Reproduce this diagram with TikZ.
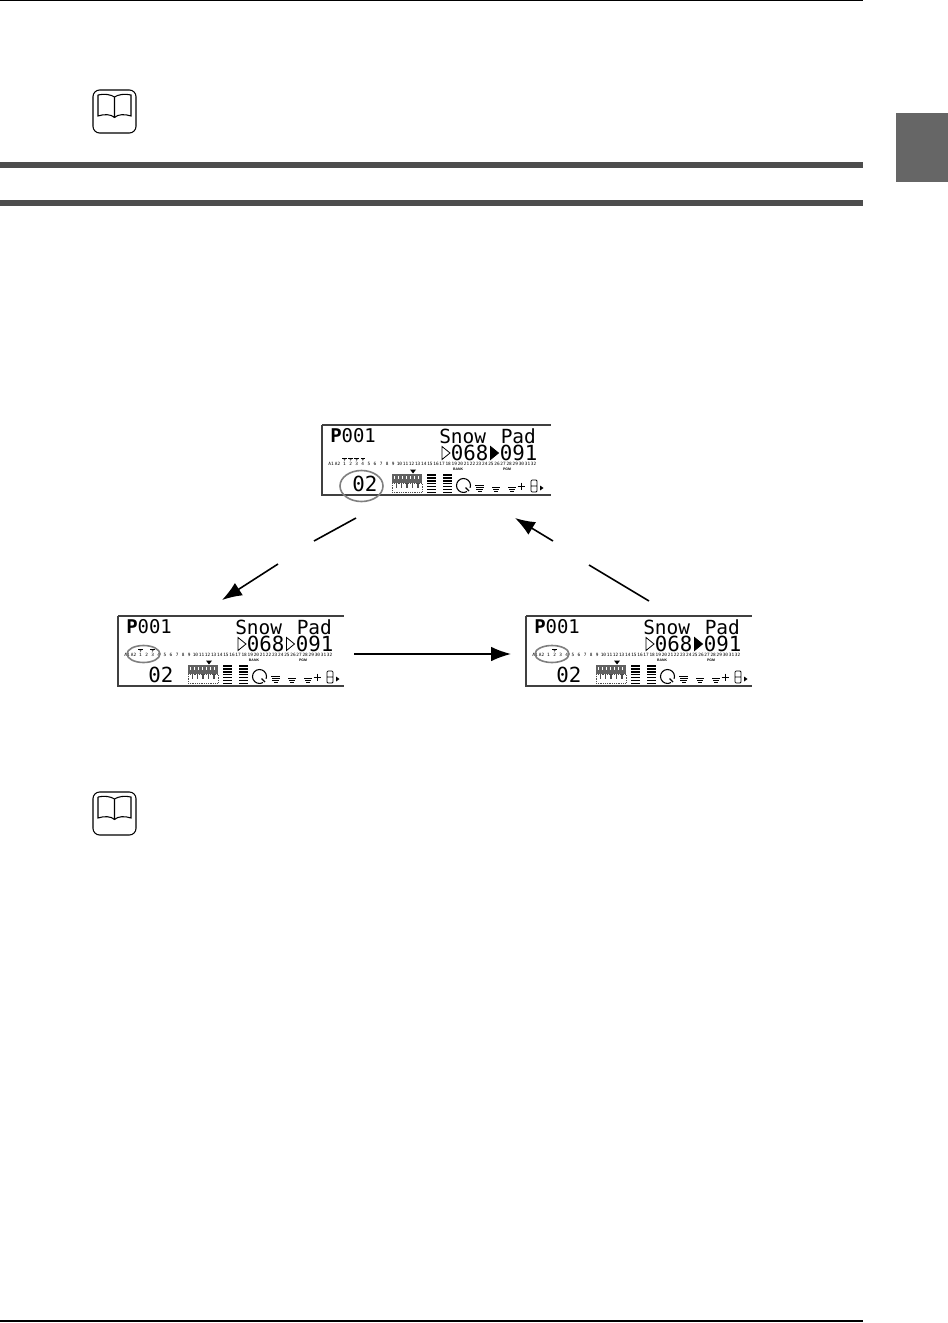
\documentclass[tikz,border=0pt]{standalone}
\usepackage{fontspec}
\setmainfont{Liberation Sans}
\newfontfamily\lcdfont{DejaVu Sans Mono}
\newfontfamily\lcdbold{DejaVu Sans Mono Bold}
\usetikzlibrary{arrows.meta}
\definecolor{rulegray}{HTML}{4D4D4D}
\definecolor{tabgray}{HTML}{666666}
\tikzset{
  x=0.75pt,y=-0.75pt,
  rule/.style={draw=rulegray,line width=4.5pt},
  thinrule/.style={draw=black,line width=1.2pt},
  lcdframe/.style={draw=black!75,line width=0.8pt},
  flow/.style={draw=black,line width=1.2pt},
  flowtip/.style={flow,-{Latex[length=15pt,width=11pt]}},
  ring/.style={draw=black!50,line width=1.2pt},
  lcdnum/.style={inner sep=0pt,anchor=center,font=\lcdfont\fontsize{3.3}{3.4}\selectfont},
  lcdtiny/.style={inner sep=0pt,font=\bfseries\fontsize{2.6}{3}\selectfont},
  lcdbig/.style={inner sep=0pt,anchor=base west,font=\lcdfont\fontsize{14.6}{16}\selectfont},
  lcdlarge/.style={inner sep=0pt,anchor=base west,font=\lcdfont\fontsize{15.6}{16}\selectfont},
  lcdhead/.style={inner sep=0pt,anchor=base west,font=\lcdfont\fontsize{14.2}{14}\selectfont},
}
% #1 origin x, #2 origin y, #3 width, #4 prefix, #5 fill 1st arrow, #6 fill 2nd arrow, #7 marked parts
\newcommand{\lcdpanel}[7]{%
\begin{scope}[shift={(#1,#2)}]
  \draw[lcdframe] (0,0) -- (#3,0);
  \draw[lcdframe] (0,0) -- (0,70) -- (#3,70);
  \node[lcdhead] (#4p) at (8,17) {{\lcdbold P}001};
  \node[lcdbig] (#4name) at (117,18) {Snow};
  \node[lcdbig] (#4pad) at (178.5,18) {Pad};
  \filldraw[draw=black,line width=.6pt,fill=#5] (120,21.5) -- (120,34.5) -- (128,28) -- cycle;
  \node[lcdlarge] (#4a) at (128.5,35) {068};
  \filldraw[draw=black,line width=.6pt,fill=#6] (168.5,21.5) -- (168.5,34.5) -- (176.5,28) -- cycle;
  \node[lcdlarge] (#4b) at (177.5,35) {091};
  \node[lcdnum] (#4aa) at (9,38.5) {A1};
  \node[lcdnum] (#4ab) at (15.5,38.5) {A2};
  \foreach \n [count=\i from 0] in {1,2,...,32} {
    \pgfmathsetmacro{\xx}{22.5+\i*6.1}
    \node[lcdnum] (#4n\n) at (\xx,38.5) {\n};
  }
  \foreach \m in {#7} {
    \pgfmathsetmacro{\xx}{22.5+(\m-1)*6.1}
    \fill[black] (\xx-2.3,32.6) rectangle (\xx+2.3,34.4);
    \fill[black] (\xx-1,34.4) -- (\xx+1,34.4) -- (\xx,35.6) -- cycle;
  }
  \node[lcdtiny] (#4bank) at (136,44) {BANK};
  \node[lcdtiny] (#4pgm) at (185,44) {PGM};
  \node[inner sep=0pt,anchor=base west,font=\lcdfont\fontsize{15.6}{16}\selectfont] (#4ch) at (30,66) {02};
  % keyboard
  \fill[black!62] (70,49) rectangle (100,58);
  \foreach \k in {0,1,...,6} {\fill[white] (71.5+\k*4,51) rectangle (73.3+\k*4,54);}
  \draw[black!70,line width=.35pt,densely dotted] (70,58) rectangle (100,67);
  \foreach \k in {0,1,...,4} {\fill[black!70] (73.5+\k*5.4,58) rectangle (74.9+\k*5.4,63);}
  \fill[black] (88,44.5) -- (94,44.5) -- (91,48.5) -- cycle;
  % level bars
  \foreach \k in {0,1,...,6} {
    \fill[black] (105,49+\k*2.95) rectangle (114,50.6+\k*2.95);
    \fill[black] (121,49+\k*2.95) rectangle (130,50.6+\k*2.95);
  }
  % dial
  \draw[black,line width=.8pt] (141.5,60.5) ++(20:7) arc[start angle=20,end angle=-300,radius=7];
  \draw[black,line width=.8pt] (143.5,62.5) -- (147,66);
  % wedges
  \foreach \wy/\ww in {59.5/4.8,61.8/4,64.1/3.1,66.2/2} {
    \fill[black] (157.5-\ww,\wy) rectangle (157.5+\ww,\wy+1.1);
  }
  \foreach \wx in {174,190} {
    \foreach \wy/\ww in {62/4.2,64.1/3.1,66.2/2} {
      \fill[black] (\wx-\ww,\wy) rectangle (\wx+\ww,\wy+1.1);
    }
  }
  \draw[black,line width=.6pt] (195.5,61) -- (202.5,61) (199,57.5) -- (199,64.5);
  \draw[black,line width=.6pt,rounded corners=.8pt] (209,55) rectangle (215,67) (209,61) -- (215,61);
  \fill[black] (218,60.5) -- (218,65.5) -- (221.5,63) -- cycle;
\end{scope}}
\newcommand{\bookicon}[2]{%
\begin{scope}[shift={(#1,#2)}]
  \draw[black,line width=.8pt,rounded corners=5pt] (0,0) rectangle (43,43);
  \draw[black,line width=.8pt] (5,5) -- (5,26) .. controls (11,24) and (18,24) .. (21.5,27.5)
     .. controls (25,24) and (32,24) .. (38,26) -- (38,5)
     .. controls (32,3.5) and (25,4.5) .. (21.5,7) .. controls (18,4.5) and (11,3.5) .. (5,5)
     (21.5,7) -- (21.5,27.5);
\end{scope}}
\begin{document}
\begin{tikzpicture}
\useasboundingbox (0,0) rectangle (948,1323);
\fill[white] (0,0) rectangle (948,1323);
\draw[thinrule] (0,0.5) -- (863,0.5);
\draw[thinrule] (0,1321) -- (863,1321);
\draw[rule] (0,165) -- (863,165);
\draw[rule] (0,203) -- (863,203);
\fill[tabgray] (896,113) rectangle (948,182);
\bookicon{93}{90}
\bookicon{93}{792}
\lcdpanel{322}{425}{229}{t}{white}{black}{1,2,3,4}
\lcdpanel{118}{616}{226}{l}{white}{white}{1,3}
\lcdpanel{526}{616}{226}{r}{white}{black}{2}
\draw[ring] (361.5,486) ellipse[x radius=21.5,y radius=15.5];
\draw[ring] (143.5,654) ellipse[x radius=16.5,y radius=8.5];
\draw[ring] (552,654) ellipse[x radius=17,y radius=8.5];
\coordinate (ta) at (356,518);
\coordinate (tb) at (314,541);
\coordinate (la) at (278,564);
\coordinate (lb) at (222,600);
\coordinate (ra) at (649,601);
\coordinate (rb) at (589,565);
\coordinate (ua) at (553,541);
\coordinate (ub) at (515,518);
\coordinate (ha) at (354,654);
\coordinate (hb) at (511,654);
\draw[flow] (ta) -- (tb);
\draw[flowtip] (la) -- (lb);
\draw[flow] (ra) -- (rb);
\draw[flowtip] (ua) -- (ub);
\draw[flowtip] (ha) -- (hb);
\end{tikzpicture}
\end{document}
